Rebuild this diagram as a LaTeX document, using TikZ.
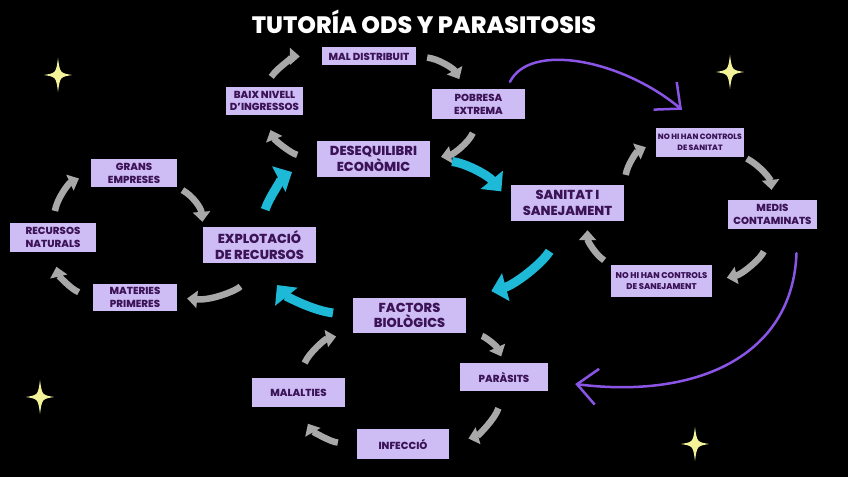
\documentclass[tikz,border=0pt]{standalone}
\usepackage{fontspec}
\setmainfont{Poppins}[BoldFont={Poppins ExtraBold}]
\usetikzlibrary{arrows.meta}
\definecolor{lila}{HTML}{CDBDF4}
\definecolor{tinta}{HTML}{3B1356}
\definecolor{gris}{HTML}{A8A8A8}
\definecolor{cian}{HTML}{1EB9D7}
\definecolor{violeta}{HTML}{8A55E6}
\definecolor{estel}{HTML}{F3F39A}
\tikzset{
box/.style={
  rectangle,
  fill=lila,
  text=tinta,
  align=center,
  inner sep=0pt,
  font=\bfseries\fontsize{10.2}{12.8}\selectfont
},
bigbox/.style={box,font=\bfseries\fontsize{13}{15.5}\selectfont},
tinybox/.style={box,font=\bfseries\fontsize{7.7}{10.5}\selectfont},
grayarrow/.style={gris,line width=6.5pt,bend left=28,-{Triangle[length=10pt,width=17pt]}},
cyanarrow/.style={cian,line width=9pt,bend left=22,-{Triangle[length=15pt,width=28pt]}},
purplearrow/.style={violeta,line width=2.5pt,line cap=round,-{Straight Barb[length=20pt,width=36pt]}}
}

\begin{document}
\begin{tikzpicture}[x=1pt,y=1pt]
\fill[black] (0,0) rectangle (848,477);
\useasboundingbox (0,0) rectangle (848,477);
\node (titol) [text=white,font=\bfseries\fontsize{23.7}{27}\selectfont] at (424,455) {TUTORÍA ODS Y PARASITOSIS};
% the boxes
\node (mal) [box,minimum width=94pt,minimum height=18pt] at (369,420.5) {MAL DISTRIBUIT};
\node (baix) [box,minimum width=77pt,minimum height=28pt] at (264.5,376) {BAIX NIVELL\\D'INGRESSOS};
\node (pobresa) [box,minimum width=93pt,minimum height=30pt] at (478.5,373) {POBRESA\\EXTREMA};
\node (deseq) [bigbox,minimum width=113pt,minimum height=36pt] at (373.5,318) {DESEQUILIBRI\\ECONÒMIC};
\node (grans) [box,minimum width=86pt,minimum height=28pt] at (134,304) {GRANS\\EMPRESES};
\node (recursos) [box,minimum width=86pt,minimum height=29pt] at (53,239.5) {RECURSOS\\NATURALS};
\node (explot) [bigbox,minimum width=113pt,minimum height=36pt] at (259.5,232) {EXPLOTACIÓ\\DE RECURSOS};
\node (materies) [box,minimum width=84pt,minimum height=27pt] at (135,179.5) {MATERIES\\PRIMERES};
\node (sanitat) [bigbox,minimum width=113pt,minimum height=36pt] at (567.5,274) {SANITAT I\\SANEJAMENT};
\node (ctrlsan) [tinybox,minimum width=88pt,minimum height=29pt] at (700,334.5) {NO HI HAN CONTROLS\\DE SANITAT};
\node (medis) [box,minimum width=89pt,minimum height=29pt] at (772.5,262.5) {MEDIS\\CONTAMINATS};
\node (ctrlsanej) [tinybox,minimum width=101pt,minimum height=32pt,font=\bfseries\fontsize{8.4}{11}\selectfont] at (661.5,196) {NO HI HAN CONTROLS\\DE SANEJAMENT};
\node (factors) [bigbox,minimum width=113pt,minimum height=35pt] at (409.5,161.5) {FACTORS\\BIOLÒGICS};
\node (parasits) [box,minimum width=88pt,minimum height=28pt] at (504,100) {PARÀSITS};
\node (malalties) [box,minimum width=93pt,minimum height=29pt] at (298.5,84.5) {MALALTIES};
\node (infeccio) [box,minimum width=92pt,minimum height=30pt] at (403,33) {INFECCIÓ};
% the gray arrows
\draw[grayarrow,shorten <=12pt,shorten >=22pt] (baix.north) to (mal.west);
\draw[grayarrow,shorten <=11pt,shorten >=11pt] (mal.east) to ([xshift=-14pt]pobresa.north);
\draw[grayarrow,shorten <=15pt,shorten >=11pt] (pobresa.south) to (deseq.east);
\draw[grayarrow,shorten <=20pt,shorten >=16pt] (deseq.west) to (baix.south);
\draw[grayarrow,shorten <=12pt,shorten >=13pt] (recursos.north) to (grans.west);
\draw[grayarrow,shorten <=6pt,shorten >=5pt] (grans.south east) to (explot.north west);
\draw[grayarrow,shorten <=30pt,shorten >=10pt] (explot.south) to (materies.east);
\draw[grayarrow,shorten <=15pt,shorten >=15pt] (materies.west) to (recursos.south);
\draw[grayarrow,shorten <=10pt,shorten >=11pt] (sanitat.north east) to (ctrlsan.west);
\draw[grayarrow,shorten <=3pt,shorten >=10pt] (ctrlsan.south east) to (medis.north);
\draw[grayarrow,shorten <=24pt,shorten >=15pt] (medis.south) to (ctrlsanej.east);
\draw[grayarrow,shorten <=8pt,shorten >=9pt] (ctrlsanej.north west) to ([xshift=20pt]sanitat.south);
\draw[grayarrow,shorten <=16pt,shorten >=7pt] (factors.south east) to (parasits.north);
\draw[grayarrow,shorten <=18pt,shorten >=20pt] (parasits.south) to (infeccio.east);
\draw[grayarrow,shorten <=19pt,shorten >=19pt] (infeccio.west) to (malalties.south);
\draw[grayarrow,shorten <=16pt,shorten >=17pt] (malalties.north) to (factors.south west);
% the cyan arrows
\draw[cyanarrow,shorten <=18pt,shorten >=28pt] (explot.north) to (deseq.west);
\draw[cyanarrow,shorten <=22pt,shorten >=15pt] (deseq.east) to (sanitat.west);
\draw[cyanarrow,shorten <=35pt,shorten >=26pt] (sanitat.south) to (factors.north east);
\draw[cyanarrow,shorten <=20pt,shorten >=28pt] (factors.west) to (explot.south);
% the purple arrows
\draw[purplearrow] ([shift={(31.5,7)}]pobresa.north) .. controls +(20,40) and +(-60,50) .. ([shift={(-18,18)}]ctrlsan.north);
\draw[purplearrow] ([shift={(24,-24)}]medis.south) .. controls +(-4,-104) and +(120,-15) .. ([shift={(27,-7)}]parasits.east);
% the stars
\foreach \sx/\sy in {58/402, 730/405, 40/80, 695/33}
  \fill[estel,shift={(\sx,\sy)}] (0,17) .. controls (2,2) .. (14,0) .. controls (2,-2) .. (0,-17)
    .. controls (-2,-2) .. (-14,0) .. controls (-2,2) .. cycle;
\end{tikzpicture}
\end{document}
